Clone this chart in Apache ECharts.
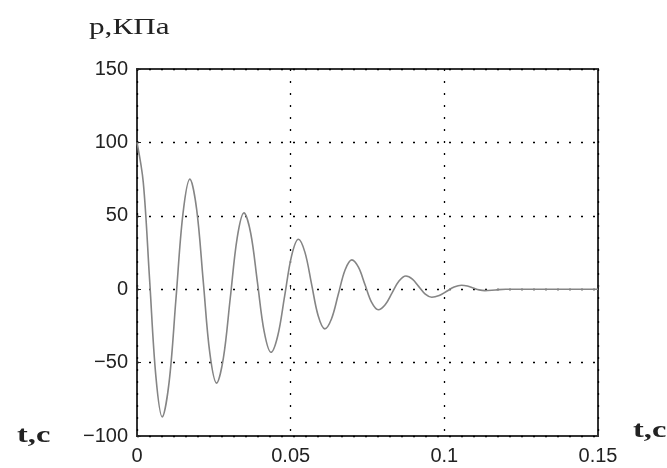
<!DOCTYPE html>
<html>
<head>
<meta charset="utf-8">
<script src="https://cdn.jsdelivr.net/npm/echarts@6/dist/echarts.min.js"></script>
<style>
html,body{margin:0;padding:0;background:#fff;}
#c{width:667px;height:468px;}
</style>
</head>
<body>
<div id="c"></div>
<script>
// time, s
var tValues = [
  0, 0.00205, 0.0041, 0.00615,
  0.0082, 0.01045, 0.0127, 0.01495,
  0.0172, 0.0194, 0.02155, 0.0237,
  0.0259, 0.0281, 0.03035, 0.0326,
  0.0348, 0.0370, 0.0392, 0.0414,
  0.0436, 0.0458, 0.04805, 0.0503,
  0.0525, 0.05465, 0.0568, 0.05895,
  0.0611, 0.0633, 0.0655, 0.0677,
  0.0699, 0.07205, 0.0742, 0.07635,
  0.0785, 0.08075, 0.083, 0.08525,
  0.0875, 0.0896, 0.0917, 0.0938,
  0.0959, 0.09833, 0.10075, 0.10318,
  0.1056, 0.1075, 0.1094, 0.1113,
  0.1132, 0.1166, 0.12, 0.15
];
// pressure, kPa
var pValues = [
  100, 72.6, 6.5, -59.6,
  -87, -63.3, -6, 51.3,
  75, 54.6, 5.5, -43.6,
  -64, -47, -6, 35,
  52, 38.1, 4.5, -29.1,
  -43, -31.7, -4.5, 22.7,
  34, 25.1, 3.5, -18.1,
  -27, -20.1, -3.5, 13.1,
  20, 15, 3, -9,
  -14, -10.6, -2.5, 5.6,
  9, 6.9, 1.75, -3.4,
  -5.5, -4.3, -1.4, 1.5,
  2.7, 2.15, 0.85, -0.45,
  -1, -0.5, 0, 0
];
var xTicks = [0, 0.05, 0.1, 0.15];
var yTicks = [-100, -50, 0, 50, 100, 150];

var seriesData = tValues.map(function (t, i) { return [t, pValues[i]]; });
var chart = echarts.init(document.getElementById('c'), null, {renderer: 'canvas'});
var labelFont = {color: '#222', fontSize: 20, fontFamily: 'Liberation Sans, Arial, sans-serif'};
var serif = '"Liberation Serif", "Times New Roman", serif';
chart.setOption({
  animation: false,
  backgroundColor: '#fff',
  grid: {left: 137, top: 69, right: 69, bottom: 32, show: true, borderColor: '#333', borderWidth: 2, backgroundColor: 'transparent'},
  xAxis: {
    type: 'value', min: xTicks[0], max: xTicks[xTicks.length - 1], interval: 0.05,
    axisLine: {show: false},
    axisTick: {show: true, inside: true, length: 4, lineStyle: {color: '#222'}},
    axisLabel: Object.assign({margin: 10, formatter: function (v) { return String(+v.toFixed(2)); }}, labelFont),
    splitLine: {show: true, lineStyle: {color: '#000', type: [2, 10], width: 1.3}}
  },
  yAxis: {
    type: 'value', min: yTicks[0], max: yTicks[yTicks.length - 1], interval: 50,
    axisLine: {show: false},
    axisTick: {show: true, inside: true, length: 4, lineStyle: {color: '#222'}},
    axisLabel: Object.assign({margin: 9, formatter: function (v) { return v < 0 ? '\u2212' + Math.abs(v) : String(v); }}, labelFont),
    splitLine: {show: true, lineStyle: {color: '#000', type: [2, 10], width: 1.3}}
  },
  series: [{
    type: 'line', data: seriesData, smooth: 0.35, showSymbol: false,
    lineStyle: {color: '#858585', width: 1.6}
  }],
  graphic: [
    {type: 'text', x: 89, y: 28, scaleX: 1.3, style: {text: 'p,КПа', font: '24px ' + serif, fill: '#222', verticalAlign: 'middle', align: 'left'}},
    {type: 'text', x: 17, y: 436, scaleX: 1.35, style: {text: 't,c', font: 'bold 24px ' + serif, fill: '#222', verticalAlign: 'middle', align: 'left'}},
    {type: 'text', x: 633, y: 431, scaleX: 1.35, style: {text: 't,c', font: 'bold 24px ' + serif, fill: '#222', verticalAlign: 'middle', align: 'left'}}
  ]
});
</script>
</body>
</html>
